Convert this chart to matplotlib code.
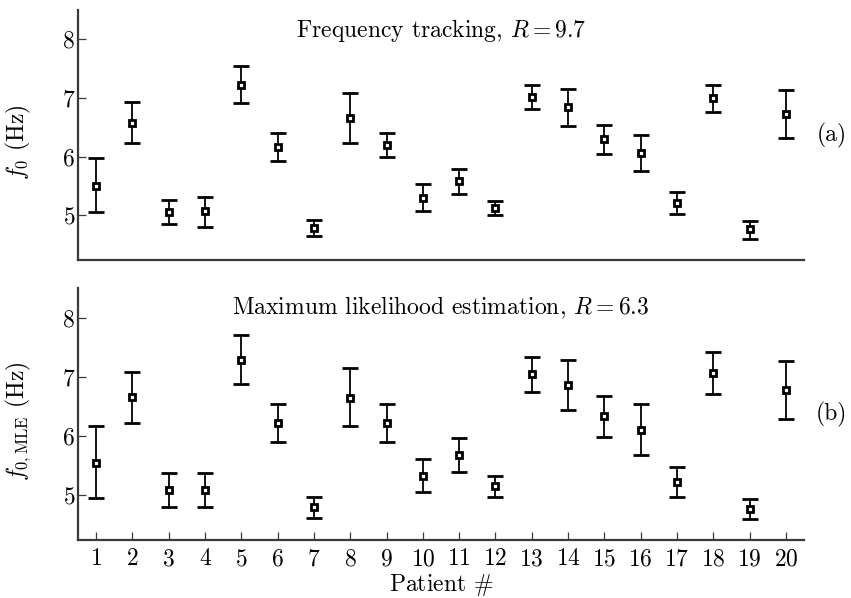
import matplotlib
matplotlib.use("Agg")
import matplotlib.pyplot as plt
import numpy as np

plt.rcParams['font.family'] = 'serif'
plt.rcParams['font.serif'] = ['cmr10']
plt.rcParams['mathtext.fontset'] = 'cm'
plt.rcParams['axes.unicode_minus'] = False
plt.rcParams['axes.formatter.use_mathtext'] = True

patients = list(range(1, 21))

# Frequency tracking
ft_center = [5.50, 6.58, 5.06, 5.07, 7.22, 6.17, 4.79, 6.66, 6.20, 5.29,
             5.58, 5.13, 7.02, 6.84, 6.30, 6.06, 5.21, 7.00, 4.76, 6.73]
ft_upper = [5.97, 6.93, 5.26, 5.32, 7.54, 6.41, 4.92, 7.09, 6.41, 5.53,
            5.79, 5.25, 7.23, 7.15, 6.54, 6.37, 5.40, 7.23, 4.90, 7.13]
ft_lower = [5.05, 6.23, 4.85, 4.81, 6.91, 5.93, 4.65, 6.24, 5.99, 5.07,
            5.37, 5.00, 6.81, 6.53, 6.05, 5.75, 5.03, 6.77, 4.60, 6.32]

# Maximum likelihood estimation
mle_center = [5.55, 6.65, 5.08, 5.08, 7.28, 6.21, 4.79, 6.64, 6.21, 5.33,
              5.67, 5.15, 7.05, 6.86, 6.33, 6.10, 5.22, 7.06, 4.76, 6.78]
mle_upper = [6.17, 7.08, 5.38, 5.38, 7.70, 6.54, 4.96, 7.14, 6.54, 5.61,
             5.96, 5.33, 7.34, 7.29, 6.68, 6.54, 5.47, 7.41, 4.94, 7.27]
mle_lower = [4.95, 6.22, 4.80, 4.79, 6.87, 5.89, 4.61, 6.16, 5.89, 5.05,
             5.39, 4.96, 6.75, 6.44, 5.98, 5.67, 4.96, 6.71, 4.59, 6.28]

yticks = [5, 6, 7, 8]

W, H = 851, 598
fig = plt.figure(figsize=(W / 100, H / 100), dpi=100)
ax1 = fig.add_axes([78 / W, 1 - 260 / H, (804 - 78) / W, 250 / H])
ax2 = fig.add_axes([78 / W, 1 - 540 / H, (804 - 78) / W, 252 / H])

spine_color = '#3a3a3a'
FS = 17

def draw(ax, c, up, lo, title, ylabel, tag, show_x):
    c = np.array(c); up = np.array(up); lo = np.array(lo)
    ax.errorbar(patients, c, yerr=[c - lo, up - c], fmt='s', color='black',
                mfc='white', mec='black', ms=5.0, mew=2.0,
                ecolor='black', elinewidth=1.3, capsize=6, capthick=2.2)
    ax.set_xlim(0.5, 20.5)
    ax.set_ylim(4.24, 8.5)
    ax.set_yticks(yticks)
    ax.set_xticks(patients)
    for s in ['top', 'right']:
        ax.spines[s].set_visible(False)
    for s in ['left', 'bottom']:
        ax.spines[s].set_color(spine_color)
        ax.spines[s].set_linewidth(1.6)
    ax.tick_params(axis='y', direction='in', length=6, width=0.9,
                   color=spine_color, labelsize=FS, pad=2)
    if show_x:
        ax.tick_params(axis='x', direction='in', length=6, width=0.9,
                       color=spine_color, labelsize=FS, pad=6)
    else:
        ax.tick_params(axis='x', length=0, labelbottom=False)
    ax.text(0.5, 0.92, title, transform=ax.transAxes, ha='center', va='center',
            fontsize=FS)
    ax.set_ylabel(ylabel, fontsize=FS)
    ax.yaxis.set_label_coords(-0.062, 0.47)
    ax.text(1.038, 0.5, tag, transform=ax.transAxes, ha='center', va='center',
            fontsize=FS)

draw(ax1, ft_center, ft_upper, ft_lower, r'Frequency tracking, $R = 9.7$',
     r'$f_0$ (Hz)', '(a)', False)
draw(ax2, mle_center, mle_upper, mle_lower,
     r'Maximum likelihood estimation, $R = 6.3$',
     r'$f_{0,\mathrm{MLE}}$ (Hz)', '(b)', True)
ax2.set_xlabel(r'Patient $\#$', fontsize=FS, labelpad=1)

fig.savefig('out.png', dpi=100)
